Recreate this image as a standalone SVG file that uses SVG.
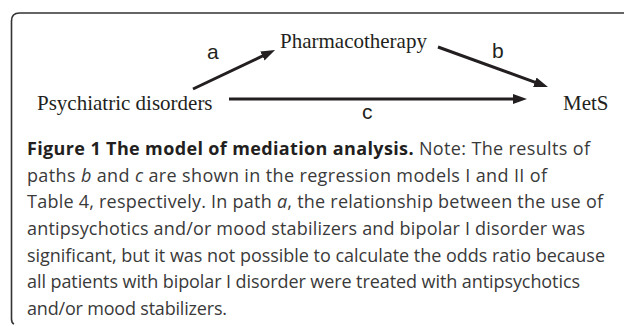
<svg xmlns="http://www.w3.org/2000/svg" width="625" height="326" viewBox="0 0 625 326">
<style>
.node{font-family:"Liberation Serif","Times New Roman",serif;font-size:21px;fill:#231f20}
.lbl{font-family:"Liberation Sans",Arial,sans-serif;font-size:21px;fill:#231f20}
.cap{font-family:"Open Sans","Noto Sans",sans-serif;font-size:18px;fill:#3a3a3a}
.b{font-weight:bold;fill:#231f20}
.edge{stroke:#231f20;stroke-width:3;fill:none}
</style>
<defs>
<marker id="ah" markerUnits="userSpaceOnUse" markerWidth="14" markerHeight="10" refX="2" refY="5" orient="auto">
<path d="M0,0 L14,5 L0,10 z" fill="#231f20"/>
</marker>
</defs>
<rect width="625" height="326" fill="#fff"/>
<path d="M14,324 Q11.5,323 11.5,319 L11.5,21 Q11.5,13 19.5,13 L624,13" fill="none" stroke="#333" stroke-width="1.6"/>
<g id="connectors">
<line class="edge" x1="193" y1="89" x2="264.2" y2="55.2" marker-end="url(#ah)"/>
<line class="edge" x1="438" y1="47" x2="536.7" y2="82.9" marker-end="url(#ah)"/>
<line class="edge" x1="229" y1="99" x2="515" y2="99" marker-end="url(#ah)"/>
<text class="lbl" x="207" y="59">a</text>
<text class="lbl" x="492" y="58">b</text>
<text class="lbl" x="362" y="119">c</text>
</g>
<g id="pharmacotherapy"><text class="node" x="280" y="48">Pharmacotherapy</text></g>
<g id="psychiatric"><text class="node" x="37" y="110">Psychiatric disorders</text></g>
<g id="mets"><text class="node" x="563" y="110">MetS</text></g>
<g id="caption">
<text class="cap" x="27" y="155" textLength="563" lengthAdjust="spacing"><tspan class="b">Figure 1 The model of mediation analysis.</tspan> Note: The results of</text>
<text class="cap" x="27" y="181.7" textLength="520" lengthAdjust="spacing">paths <tspan font-style="italic">b</tspan> and <tspan font-style="italic">c</tspan> are shown in the regression models I and II of</text>
<text class="cap" x="27" y="208.3" textLength="576" lengthAdjust="spacing">Table 4, respectively. In path <tspan font-style="italic">a</tspan>, the relationship between the use of</text>
<text class="cap" x="27" y="235" textLength="558" lengthAdjust="spacing">antipsychotics and/or mood stabilizers and bipolar I disorder was</text>
<text class="cap" x="27" y="261.6" textLength="578" lengthAdjust="spacing">significant, but it was not possible to calculate the odds ratio because</text>
<text class="cap" x="27" y="288.2" textLength="553" lengthAdjust="spacing">all patients with bipolar I disorder were treated with antipsychotics</text>
<text class="cap" x="27" y="314.8" textLength="200" lengthAdjust="spacing">and/or mood stabilizers.</text>
</g>
</svg>
